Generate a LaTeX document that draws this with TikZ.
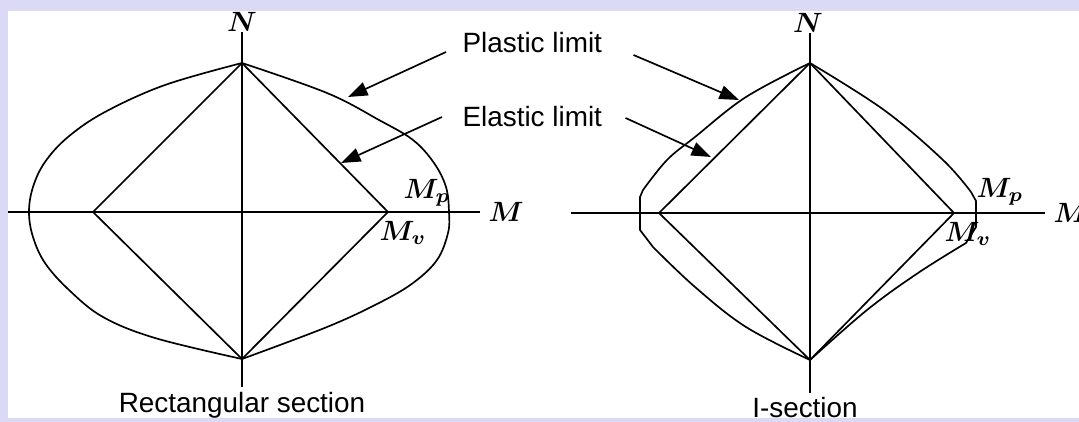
\documentclass[tikz,border=0pt]{standalone}
\usepackage{fontspec}
\setmainfont{Liberation Sans}
\usetikzlibrary{arrows.meta}
\definecolor{lavender}{RGB}{219,217,246}

\begin{document}
\begin{tikzpicture}[x=0.0126cm, y=-0.0126cm, >={Triangle[length=7pt,width=5pt]},
    every node/.style={inner sep=0pt},
    sym/.style={font=\boldmath},
    axisline/.style={line width=0.75pt},
    limline/.style={line width=0.6pt}]
    \useasboundingbox (0,0) rectangle (1079,422);
    \fill[lavender] (0,0) rectangle (1079,422);
    \fill[white] (8,11) rectangle (1079,418);

    \coordinate (Ltop) at (242,63);
    \coordinate (Lbot) at (242,359);
    \coordinate (Lleft) at (93,212);
    \coordinate (Lright) at (388,212);
    \coordinate (Lw) at (8,212);
    \coordinate (Ls) at (242,387);
    \node[sym, anchor=south] (N1) at (242,32) {$N$};
    \node[sym, anchor=west] (M1) at (488,212) {$M$};
    \node[sym] (Mp1) at (427,193) {$M_p$};
    \node[sym] (Mv1) at (403,233) {$M_v$};
    \node[anchor=base] (rect) at (242,412) {Rectangular section};

    \draw[axisline] (Lw) -- ([xshift=-3pt]M1.west);
    \draw[axisline] (N1.south -| Ltop) -- (Ls);
    \draw[limline] (Ltop) -- (Lright) -- (Lbot) -- (Lleft) -- cycle;
    \draw[limline] plot[smooth, tension=0.6] coordinates {(242,63) (327,93) (379,120) (413,140)
        (434,163) (446,187) (449,212) (448,233) (437,260) (413,283) (379,303) (327,327) (242,359)};
    \draw[limline] plot[smooth, tension=0.6] coordinates {(242,63) (165,85) (105,112) (68,137)
        (45,162) (33,187) (29,212) (33,237) (45,263) (69,290) (103,317) (155,338) (242,359)};

    \coordinate (Rtop) at (810,63);
    \coordinate (Rbot) at (810,360);
    \coordinate (Rleft) at (659,213);
    \coordinate (Rright) at (954,213);
    \coordinate (Rw) at (571,213);
    \coordinate (Rs) at (810,393);
    \node[sym, anchor=south] (N2) at (808,33) {$N$};
    \node[sym, anchor=west] (M2) at (1053,213) {$M$};
    \node[sym] (Mp2) at (1000,192) {$M_p$};
    \node[sym] (Mv2) at (968,234) {$M_v$};
    \node[anchor=base] (isec) at (805,418) {I-section};

    \draw[axisline] (Rw) -- ([xshift=-3pt]M2.west);
    \draw[axisline] (N2.south -| Rtop) -- (Rs);
    \draw[limline] (Rtop) -- (Rright) -- (Rbot) -- (Rleft) -- cycle;
    \draw[limline] plot[smooth, tension=0.6] coordinates {(810,63) (746,97) (695,137) (667,160) (643,190)}
        -- (640,197) -- (640,230) -- plot[smooth, tension=0.6] coordinates {(653,247) (695,287) (746,327) (810,360)};
    \draw[limline] plot[smooth, tension=0.6] coordinates {(810,63) (884,110) (943,160) (971,192)}
        -- (976,201) -- (976,227) -- plot[smooth, tension=0.6] coordinates {(966,243) (918,273) (867,310) (810,360)};

    \coordinate (Lpl) at (348,97);
    \coordinate (Lel) at (341,163);
    \coordinate (Rpl) at (739,100);
    \coordinate (Rel) at (711,157);
    \node[anchor=base west] (plastic) at (462,53) {Plastic limit};
    \node[anchor=base west] (elastic) at (462,127) {Elastic limit};
    \draw[->, limline] ([shift={(-16,-1)}]plastic.base west) -- (Lpl);
    \draw[->, limline] ([shift={(-20,-10)}]elastic.base west) -- (Lel);
    \draw[->, limline] ([shift={(31,2)}]plastic.base east) -- (Rpl);
    \draw[->, limline] ([shift={(23,-9)}]elastic.base east) -- (Rel);

    \fill[lavender] (0,418) rectangle (1079,422);
\end{tikzpicture}
\end{document}
